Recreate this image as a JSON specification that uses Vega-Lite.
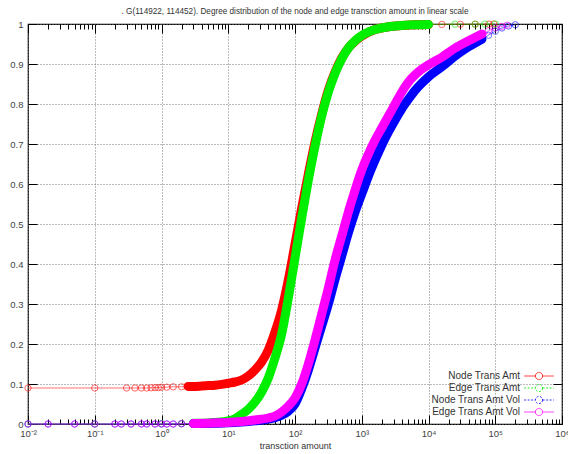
{
  "$schema": "https://vega.github.io/schema/vega-lite/v6.json",
  "width": 534,
  "height": 400,
  "autosize": "none",
  "padding": {"left": 28, "top": 24, "right": 6, "bottom": 30},
  "background": "white",
  "title": {
    "text": ". G(114922, 114452). Degree distribution of the node and edge transction amount in linear scale",
    "fontSize": 8.2,
    "fontWeight": "normal",
    "font": "Liberation Sans",
    "color": "#333",
    "offset": 3
  },
  "config": {
    "font": "Liberation Sans",
    "view": {"stroke": "#000", "strokeWidth": 1.2},
    "axis": {
      "labelFont": "Liberation Sans",
      "labelFontSize": 9.5,
      "labelColor": "#444",
      "tickColor": "#000",
      "tickWidth": 1,
      "domain": false,
      "gridColor": "#777",
      "gridDash": [1, 2],
      "gridWidth": 1,
      "titleFont": "Liberation Sans",
      "titleFontWeight": "normal",
      "titleFontSize": 9,
      "titleColor": "#333"
    },
    "legend": {
      "labelFont": "Liberation Sans",
      "labelFontSize": 10,
      "labelColor": "#333"
    }
  },
  "data": {
    "values": [
      {"s": "Node Trans Amt", "x": 0.01, "y": 0.09},
      {"s": "Node Trans Amt", "x": 0.1, "y": 0.09},
      {"s": "Node Trans Amt", "x": 0.3, "y": 0.09},
      {"s": "Node Trans Amt", "x": 0.4, "y": 0.09},
      {"s": "Node Trans Amt", "x": 0.5, "y": 0.09},
      {"s": "Node Trans Amt", "x": 0.6, "y": 0.09},
      {"s": "Node Trans Amt", "x": 0.7, "y": 0.0905},
      {"s": "Node Trans Amt", "x": 0.8, "y": 0.091},
      {"s": "Node Trans Amt", "x": 0.9, "y": 0.091},
      {"s": "Node Trans Amt", "x": 1, "y": 0.092},
      {"s": "Node Trans Amt", "x": 1.2, "y": 0.092},
      {"s": "Node Trans Amt", "x": 1.5, "y": 0.093},
      {"s": "Node Trans Amt", "x": 2, "y": 0.093},
      {"s": "Node Trans Amt", "x": 2.5, "y": 0.094},
      {"s": "Node Trans Amt", "x": 3, "y": 0.094},
      {"s": "Node Trans Amt", "x": 4, "y": 0.095},
      {"s": "Node Trans Amt", "x": 5, "y": 0.096},
      {"s": "Node Trans Amt", "x": 6.31, "y": 0.097},
      {"s": "Node Trans Amt", "x": 7.943, "y": 0.099},
      {"s": "Node Trans Amt", "x": 10, "y": 0.102},
      {"s": "Node Trans Amt", "x": 12.59, "y": 0.105},
      {"s": "Node Trans Amt", "x": 15.85, "y": 0.11},
      {"s": "Node Trans Amt", "x": 19.95, "y": 0.12},
      {"s": "Node Trans Amt", "x": 25.12, "y": 0.135},
      {"s": "Node Trans Amt", "x": 31.62, "y": 0.155},
      {"s": "Node Trans Amt", "x": 39.81, "y": 0.185},
      {"s": "Node Trans Amt", "x": 50.12, "y": 0.23},
      {"s": "Node Trans Amt", "x": 63.1, "y": 0.285},
      {"s": "Node Trans Amt", "x": 79.43, "y": 0.36},
      {"s": "Node Trans Amt", "x": 100, "y": 0.45},
      {"s": "Node Trans Amt", "x": 125.9, "y": 0.54},
      {"s": "Node Trans Amt", "x": 158.5, "y": 0.625},
      {"s": "Node Trans Amt", "x": 199.5, "y": 0.705},
      {"s": "Node Trans Amt", "x": 251.2, "y": 0.775},
      {"s": "Node Trans Amt", "x": 316.2, "y": 0.835},
      {"s": "Node Trans Amt", "x": 398.1, "y": 0.88},
      {"s": "Node Trans Amt", "x": 501.2, "y": 0.915},
      {"s": "Node Trans Amt", "x": 631, "y": 0.94},
      {"s": "Node Trans Amt", "x": 794.3, "y": 0.957},
      {"s": "Node Trans Amt", "x": 1000, "y": 0.97},
      {"s": "Node Trans Amt", "x": 1585, "y": 0.986},
      {"s": "Node Trans Amt", "x": 2512, "y": 0.993},
      {"s": "Node Trans Amt", "x": 3981, "y": 0.996},
      {"s": "Node Trans Amt", "x": 6310, "y": 0.998},
      {"s": "Node Trans Amt", "x": 10000, "y": 0.9985},
      {"s": "Node Trans Amt", "x": 15850, "y": 0.999},
      {"s": "Node Trans Amt", "x": 30000, "y": 0.9993},
      {"s": "Node Trans Amt", "x": 50000, "y": 0.9995},
      {"s": "Node Trans Amt", "x": 80000, "y": 0.9997},
      {"s": "Node Trans Amt", "x": 95000, "y": 1},

      {"s": "Edge Trans Amt", "x": 0.01, "y": 0},
      {"s": "Edge Trans Amt", "x": 0.1, "y": 0},
      {"s": "Edge Trans Amt", "x": 1, "y": 0.001},
      {"s": "Edge Trans Amt", "x": 2, "y": 0.001},
      {"s": "Edge Trans Amt", "x": 3, "y": 0.002},
      {"s": "Edge Trans Amt", "x": 3.981, "y": 0.002},
      {"s": "Edge Trans Amt", "x": 6.31, "y": 0.004},
      {"s": "Edge Trans Amt", "x": 10, "y": 0.008},
      {"s": "Edge Trans Amt", "x": 12.59, "y": 0.013},
      {"s": "Edge Trans Amt", "x": 15.85, "y": 0.024},
      {"s": "Edge Trans Amt", "x": 19.95, "y": 0.037},
      {"s": "Edge Trans Amt", "x": 25.12, "y": 0.055},
      {"s": "Edge Trans Amt", "x": 31.62, "y": 0.08},
      {"s": "Edge Trans Amt", "x": 39.81, "y": 0.115},
      {"s": "Edge Trans Amt", "x": 50.12, "y": 0.165},
      {"s": "Edge Trans Amt", "x": 63.1, "y": 0.225},
      {"s": "Edge Trans Amt", "x": 79.43, "y": 0.315},
      {"s": "Edge Trans Amt", "x": 100, "y": 0.415},
      {"s": "Edge Trans Amt", "x": 125.9, "y": 0.515},
      {"s": "Edge Trans Amt", "x": 158.5, "y": 0.61},
      {"s": "Edge Trans Amt", "x": 199.5, "y": 0.695},
      {"s": "Edge Trans Amt", "x": 251.2, "y": 0.77},
      {"s": "Edge Trans Amt", "x": 316.2, "y": 0.83},
      {"s": "Edge Trans Amt", "x": 398.1, "y": 0.877},
      {"s": "Edge Trans Amt", "x": 501.2, "y": 0.913},
      {"s": "Edge Trans Amt", "x": 631, "y": 0.94},
      {"s": "Edge Trans Amt", "x": 794.3, "y": 0.958},
      {"s": "Edge Trans Amt", "x": 1000, "y": 0.971},
      {"s": "Edge Trans Amt", "x": 1585, "y": 0.986},
      {"s": "Edge Trans Amt", "x": 2512, "y": 0.993},
      {"s": "Edge Trans Amt", "x": 3981, "y": 0.996},
      {"s": "Edge Trans Amt", "x": 6310, "y": 0.998},
      {"s": "Edge Trans Amt", "x": 10000, "y": 0.999},
      {"s": "Edge Trans Amt", "x": 25000, "y": 0.9994},
      {"s": "Edge Trans Amt", "x": 50000, "y": 0.9996},
      {"s": "Edge Trans Amt", "x": 70000, "y": 0.9998},
      {"s": "Edge Trans Amt", "x": 100000, "y": 1},

      {"s": "Node Trans Amt Vol", "x": 0.01, "y": 0},
      {"s": "Node Trans Amt Vol", "x": 0.02, "y": 0},
      {"s": "Node Trans Amt Vol", "x": 0.05, "y": 0},
      {"s": "Node Trans Amt Vol", "x": 0.1, "y": 0},
      {"s": "Node Trans Amt Vol", "x": 0.2, "y": 0},
      {"s": "Node Trans Amt Vol", "x": 0.25, "y": 0},
      {"s": "Node Trans Amt Vol", "x": 0.35, "y": 0},
      {"s": "Node Trans Amt Vol", "x": 0.5, "y": 0},
      {"s": "Node Trans Amt Vol", "x": 0.6, "y": 0},
      {"s": "Node Trans Amt Vol", "x": 0.8, "y": 0},
      {"s": "Node Trans Amt Vol", "x": 1, "y": 0},
      {"s": "Node Trans Amt Vol", "x": 1.2, "y": 0},
      {"s": "Node Trans Amt Vol", "x": 1.5, "y": 0},
      {"s": "Node Trans Amt Vol", "x": 2, "y": 0.0005},
      {"s": "Node Trans Amt Vol", "x": 3, "y": 0.001},
      {"s": "Node Trans Amt Vol", "x": 5, "y": 0.0015},
      {"s": "Node Trans Amt Vol", "x": 7, "y": 0.002},
      {"s": "Node Trans Amt Vol", "x": 10, "y": 0.003},
      {"s": "Node Trans Amt Vol", "x": 15.85, "y": 0.005},
      {"s": "Node Trans Amt Vol", "x": 25.12, "y": 0.008},
      {"s": "Node Trans Amt Vol", "x": 39.81, "y": 0.012},
      {"s": "Node Trans Amt Vol", "x": 50.12, "y": 0.016},
      {"s": "Node Trans Amt Vol", "x": 63.1, "y": 0.022},
      {"s": "Node Trans Amt Vol", "x": 79.43, "y": 0.032},
      {"s": "Node Trans Amt Vol", "x": 100, "y": 0.05},
      {"s": "Node Trans Amt Vol", "x": 125.9, "y": 0.088},
      {"s": "Node Trans Amt Vol", "x": 158.5, "y": 0.135},
      {"s": "Node Trans Amt Vol", "x": 199.5, "y": 0.19},
      {"s": "Node Trans Amt Vol", "x": 251.2, "y": 0.245},
      {"s": "Node Trans Amt Vol", "x": 316.2, "y": 0.3},
      {"s": "Node Trans Amt Vol", "x": 398.1, "y": 0.362},
      {"s": "Node Trans Amt Vol", "x": 501.2, "y": 0.42},
      {"s": "Node Trans Amt Vol", "x": 631, "y": 0.478},
      {"s": "Node Trans Amt Vol", "x": 794.3, "y": 0.53},
      {"s": "Node Trans Amt Vol", "x": 1000, "y": 0.575},
      {"s": "Node Trans Amt Vol", "x": 1259, "y": 0.62},
      {"s": "Node Trans Amt Vol", "x": 1585, "y": 0.66},
      {"s": "Node Trans Amt Vol", "x": 1995, "y": 0.697},
      {"s": "Node Trans Amt Vol", "x": 2512, "y": 0.73},
      {"s": "Node Trans Amt Vol", "x": 3162, "y": 0.76},
      {"s": "Node Trans Amt Vol", "x": 3981, "y": 0.788},
      {"s": "Node Trans Amt Vol", "x": 5012, "y": 0.812},
      {"s": "Node Trans Amt Vol", "x": 6310, "y": 0.834},
      {"s": "Node Trans Amt Vol", "x": 7943, "y": 0.852},
      {"s": "Node Trans Amt Vol", "x": 10000, "y": 0.868},
      {"s": "Node Trans Amt Vol", "x": 15850, "y": 0.893},
      {"s": "Node Trans Amt Vol", "x": 25120, "y": 0.92},
      {"s": "Node Trans Amt Vol", "x": 39810, "y": 0.943},
      {"s": "Node Trans Amt Vol", "x": 63100, "y": 0.962},
      {"s": "Node Trans Amt Vol", "x": 79430, "y": 0.972},
      {"s": "Node Trans Amt Vol", "x": 100000, "y": 0.982},
      {"s": "Node Trans Amt Vol", "x": 125900, "y": 0.99},
      {"s": "Node Trans Amt Vol", "x": 158500, "y": 0.995},
      {"s": "Node Trans Amt Vol", "x": 199500, "y": 0.998},

      {"s": "Edge Trans Amt Vol", "x": 0.01, "y": 0},
      {"s": "Edge Trans Amt Vol", "x": 0.02, "y": 0},
      {"s": "Edge Trans Amt Vol", "x": 0.05, "y": 0},
      {"s": "Edge Trans Amt Vol", "x": 0.1, "y": 0},
      {"s": "Edge Trans Amt Vol", "x": 0.2, "y": 0},
      {"s": "Edge Trans Amt Vol", "x": 0.25, "y": 0},
      {"s": "Edge Trans Amt Vol", "x": 0.35, "y": 0},
      {"s": "Edge Trans Amt Vol", "x": 0.5, "y": 0},
      {"s": "Edge Trans Amt Vol", "x": 0.6, "y": 0},
      {"s": "Edge Trans Amt Vol", "x": 0.8, "y": 0},
      {"s": "Edge Trans Amt Vol", "x": 1, "y": 0},
      {"s": "Edge Trans Amt Vol", "x": 1.2, "y": 0},
      {"s": "Edge Trans Amt Vol", "x": 1.5, "y": 0},
      {"s": "Edge Trans Amt Vol", "x": 2, "y": 0.001},
      {"s": "Edge Trans Amt Vol", "x": 3, "y": 0.001},
      {"s": "Edge Trans Amt Vol", "x": 5, "y": 0.002},
      {"s": "Edge Trans Amt Vol", "x": 7, "y": 0.003},
      {"s": "Edge Trans Amt Vol", "x": 10, "y": 0.004},
      {"s": "Edge Trans Amt Vol", "x": 15.85, "y": 0.006},
      {"s": "Edge Trans Amt Vol", "x": 25.12, "y": 0.01},
      {"s": "Edge Trans Amt Vol", "x": 39.81, "y": 0.015},
      {"s": "Edge Trans Amt Vol", "x": 50.12, "y": 0.02},
      {"s": "Edge Trans Amt Vol", "x": 63.1, "y": 0.03},
      {"s": "Edge Trans Amt Vol", "x": 79.43, "y": 0.045},
      {"s": "Edge Trans Amt Vol", "x": 100, "y": 0.065},
      {"s": "Edge Trans Amt Vol", "x": 125.9, "y": 0.1},
      {"s": "Edge Trans Amt Vol", "x": 158.5, "y": 0.15},
      {"s": "Edge Trans Amt Vol", "x": 199.5, "y": 0.21},
      {"s": "Edge Trans Amt Vol", "x": 251.2, "y": 0.275},
      {"s": "Edge Trans Amt Vol", "x": 316.2, "y": 0.34},
      {"s": "Edge Trans Amt Vol", "x": 398.1, "y": 0.41},
      {"s": "Edge Trans Amt Vol", "x": 501.2, "y": 0.47},
      {"s": "Edge Trans Amt Vol", "x": 631, "y": 0.53},
      {"s": "Edge Trans Amt Vol", "x": 794.3, "y": 0.585},
      {"s": "Edge Trans Amt Vol", "x": 1000, "y": 0.635},
      {"s": "Edge Trans Amt Vol", "x": 1259, "y": 0.675},
      {"s": "Edge Trans Amt Vol", "x": 1585, "y": 0.71},
      {"s": "Edge Trans Amt Vol", "x": 1995, "y": 0.74},
      {"s": "Edge Trans Amt Vol", "x": 2512, "y": 0.77},
      {"s": "Edge Trans Amt Vol", "x": 3162, "y": 0.8},
      {"s": "Edge Trans Amt Vol", "x": 3981, "y": 0.83},
      {"s": "Edge Trans Amt Vol", "x": 5012, "y": 0.855},
      {"s": "Edge Trans Amt Vol", "x": 6310, "y": 0.873},
      {"s": "Edge Trans Amt Vol", "x": 7943, "y": 0.887},
      {"s": "Edge Trans Amt Vol", "x": 10000, "y": 0.898},
      {"s": "Edge Trans Amt Vol", "x": 15850, "y": 0.917},
      {"s": "Edge Trans Amt Vol", "x": 25120, "y": 0.94},
      {"s": "Edge Trans Amt Vol", "x": 39810, "y": 0.958},
      {"s": "Edge Trans Amt Vol", "x": 63100, "y": 0.975},
      {"s": "Edge Trans Amt Vol", "x": 79430, "y": 0.983},
      {"s": "Edge Trans Amt Vol", "x": 100000, "y": 0.99},
      {"s": "Edge Trans Amt Vol", "x": 125900, "y": 0.994},
      {"s": "Edge Trans Amt Vol", "x": 150000, "y": 0.997}
    ]
  },
  "layer": [
    {
      "mark": {"type": "line", "strokeWidth": 1, "opacity": 0.55},
      "encoding": {
        "x": {
          "field": "x", "type": "quantitative",
          "scale": {"type": "log", "domain": [0.01, 1000000], "nice": false},
          "axis": {
            "orient": "bottom",
            "title": "transction amount",
            "titlePadding": 0,
            "values": [0.01,0.02,0.03,0.04,0.05,0.06,0.07,0.08,0.09,0.1,0.2,0.3,0.4,0.5,0.6,0.7,0.8,0.9,1,2,3,4,5,6,7,8,9,10,20,30,40,50,60,70,80,90,100,200,300,400,500,600,700,800,900,1000,2000,3000,4000,5000,6000,7000,8000,9000,10000,20000,30000,40000,50000,60000,70000,80000,90000,100000,200000,300000,400000,500000,600000,700000,800000,900000,1000000],
            "labelExpr": "abs(log(datum.value)/LN10 - round(log(datum.value)/LN10)) < 0.01 ? '10' + ['⁻²','⁻¹','⁰','¹','²','³','⁴','⁵','⁶'][round(log(datum.value)/LN10)+2] : ''",
            "labelPadding": 13,
            "labelOverlap": false,
            "labelFlush": false,
            "grid": true,
            "gridOpacity": {"condition": {"test": "abs(log(datum.value)/LN10 - round(log(datum.value)/LN10)) < 0.01", "value": 1}, "value": 0},
            "tickSize": {"condition": {"test": "abs(log(datum.value)/LN10 - round(log(datum.value)/LN10)) < 0.01", "value": -9}, "value": -5}
          }
        },
        "y": {
          "field": "y", "type": "quantitative",
          "scale": {"domain": [0, 1], "nice": false, "zero": false},
          "axis": {
            "orient": "left",
            "title": null,
            "values": [0,0.1,0.2,0.3,0.4,0.5,0.6,0.7,0.8,0.9,1],
            "format": "~g",
            "grid": true,
            "tickSize": -9,
            "labelPadding": 14
          }
        },
        "color": {
          "field": "s", "type": "nominal",
          "scale": {"domain": ["Node Trans Amt", "Edge Trans Amt", "Node Trans Amt Vol", "Edge Trans Amt Vol"], "range": ["#ff0000", "#00ee00", "#0000ff", "#ff00ff"]},
          "legend": {
            "title": null,
            "orient": "bottom-right",
            "offset": 6,
            "padding": 0,
            "rowPadding": 0,
            "symbolType": "M-3.3,0H-0.8M0.8,0H3.3M0.8,0A0.8,0.8,0,1,1,-0.8,0A0.8,0.8,0,1,1,0.8,0",
            "symbolSize": 81,
            "symbolStrokeWidth": 1,
            "symbolFillColor": "transparent",
            "labelAlign": "right",
            "labelOffset": -24,
            "symbolOpacity": 0.8,
            "encode": {
              "symbols": {
                "update": {
                  "fill": {"value": "transparent"},
                  "strokeDash": {"signal": "indexof(['Edge Trans Amt','Node Trans Amt Vol'], datum.value) >= 0 ? [2,1.5] : [1,0]"}
                }
              }
            }
          }
        }
      }
    },
    {
      "transform": [{"filter": "!(datum.x >= 2.4 && datum.x <= (indexof(['Node Trans Amt Vol','Edge Trans Amt Vol'], datum.s) >= 0 ? 70000 : 12000))"}],
      "mark": {"type": "point", "shape": "circle", "filled": false, "size": 40, "strokeWidth": 1, "opacity": 0.6},
      "encoding": {
        "x": {
          "field": "x", "type": "quantitative",
          "axis": {
            "orient": "top",
            "title": null,
            "labels": false,
            "grid": false,
            "values": [0.01,0.02,0.03,0.04,0.05,0.06,0.07,0.08,0.09,0.1,0.2,0.3,0.4,0.5,0.6,0.7,0.8,0.9,1,2,3,4,5,6,7,8,9,10,20,30,40,50,60,70,80,90,100,200,300,400,500,600,700,800,900,1000,2000,3000,4000,5000,6000,7000,8000,9000,10000,20000,30000,40000,50000,60000,70000,80000,90000,100000,200000,300000,400000,500000,600000,700000,800000,900000,1000000],
            "tickSize": {"condition": {"test": "abs(log(datum.value)/LN10 - round(log(datum.value)/LN10)) < 0.01", "value": -9}, "value": -5}
          }
        },
        "y": {
          "field": "y", "type": "quantitative",
          "axis": {
            "orient": "right",
            "title": null,
            "labels": false,
            "grid": false,
            "values": [0,0.1,0.2,0.3,0.4,0.5,0.6,0.7,0.8,0.9,1],
            "tickSize": -9
          }
        },
        "color": {"field": "s", "type": "nominal"}
      }
    },
    {
      "transform": [{"filter": "datum.x >= 2.4 && datum.x <= (indexof(['Node Trans Amt Vol','Edge Trans Amt Vol'], datum.s) >= 0 ? 70000 : 12000)"}],
      "mark": {"type": "line", "strokeWidth": 9, "strokeCap": "round", "strokeJoin": "round", "interpolate": "monotone"},
      "encoding": {
        "x": {"field": "x", "type": "quantitative", "axis": null},
        "y": {"field": "y", "type": "quantitative", "axis": null},
        "color": {"field": "s", "type": "nominal"}
      }
    }
  ],
  "resolve": {"axis": {"x": "independent", "y": "independent"}}
}
